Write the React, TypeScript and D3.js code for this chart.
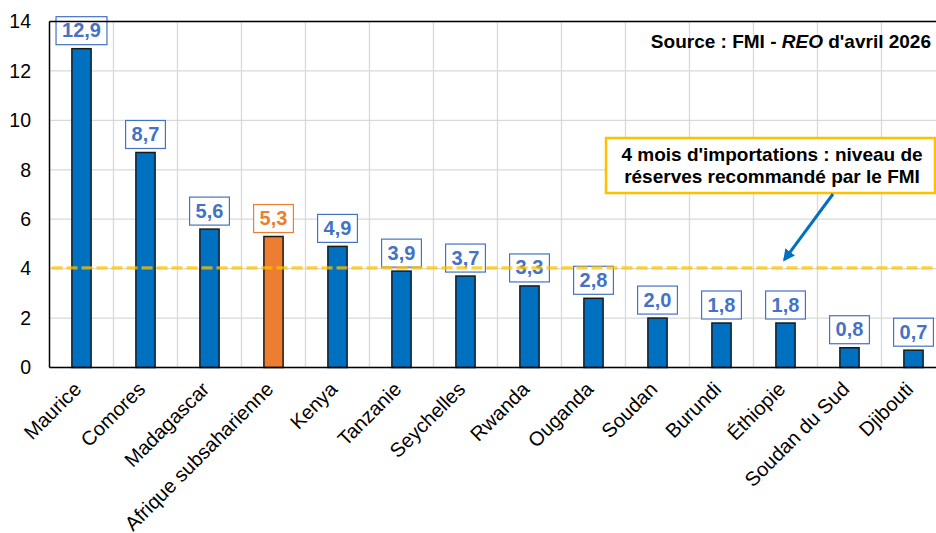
import React, { useEffect, useRef } from "react";
import * as d3 from "d3";

const categories = [
  "Maurice",
  "Comores",
  "Madagascar",
  "Afrique subsaharienne",
  "Kenya",
  "Tanzanie",
  "Seychelles",
  "Rwanda",
  "Ouganda",
  "Soudan",
  "Burundi",
  "Éthiopie",
  "Soudan du Sud",
  "Djibouti",
];
const values = [12.9, 8.7, 5.6, 5.3, 4.9, 3.9, 3.7, 3.3, 2.8, 2.0, 1.8, 1.8, 0.8, 0.7];
const highlighted = ["Afrique subsaharienne"];
const yTicks = [0, 2, 4, 6, 8, 10, 12, 14];
const thresholdValue = [4];
const arrowTarget = ["Éthiopie"];
const sourceParts = [
  { text: "Source : FMI - ", italic: false },
  { text: "REO", italic: true },
  { text: " d'avril 2026", italic: false },
];
const annotationLines = ["4 mois d'importations : niveau de", "réserves recommandé par le FMI"];

const W = 936;
const H = 533;
const FONT = "'Liberation Sans', Arial, sans-serif";
const BLUE = "#0070C0";
const ORANGE = "#ED7D31";
const LABEL_BLUE = "#4472C4";

export default function App() {
  const ref = useRef<SVGSVGElement>(null);

  useEffect(() => {
    const svg = d3.select(ref.current);
    svg.selectAll("*").remove();

    const left = 49.5;
    const band = 64;
    const x = d3
      .scaleBand<string>()
      .domain(categories)
      .range([left, left + band * categories.length])
      .paddingInner(0)
      .paddingOuter(0);
    const y = d3.scaleLinear().domain([0, 14]).range([367.5, 21.5]);
    const rightEdge = W;

    const defs = svg.append("defs");
    defs
      .append("marker")
      .attr("id", "arrowhead")
      .attr("viewBox", "0 0 10 10")
      .attr("refX", 8)
      .attr("refY", 5)
      .attr("markerWidth", 4)
      .attr("markerHeight", 4)
      .attr("orient", "auto")
      .append("path")
      .attr("d", "M0,0 L10,5 L0,10 z")
      .attr("fill", BLUE);

    // gridlines
    const grid = svg.append("g");
    grid
      .selectAll("line.h")
      .data(yTicks)
      .join("line")
      .attr("x1", left)
      .attr("x2", rightEdge)
      .attr("y1", (d) => y(d))
      .attr("y2", (d) => y(d))
      .attr("stroke", "#D9D9D9")
      .attr("stroke-width", 1.3);
    grid
      .selectAll("line.v")
      .data(categories.slice(1))
      .join("line")
      .attr("x1", (d) => x(d)!)
      .attr("x2", (d) => x(d)!)
      .attr("y1", y(14))
      .attr("y2", y(0))
      .attr("stroke", "#D9D9D9")
      .attr("stroke-width", 1.3);

    // bars
    const bw = x.bandwidth() * 0.3;
    svg
      .append("g")
      .selectAll("rect")
      .data(categories)
      .join("rect")
      .attr("x", (d) => x(d)! + x.bandwidth() / 2 - bw / 2)
      .attr("y", (d, i) => y(values[i]))
      .attr("width", bw)
      .attr("height", (d, i) => y(0) - y(values[i]))
      .attr("fill", (d) => (highlighted.includes(d) ? ORANGE : BLUE))
      .attr("stroke", "#1a1a1a")
      .attr("stroke-width", 1.5);

    // data labels
    const lg = svg.append("g");
    categories.forEach((c, i) => {
      const col = highlighted.includes(c) ? ORANGE : LABEL_BLUE;
      const cx = x(c)! + x.bandwidth() / 2;
      const g = lg.append("g");
      const boxBottom = y(values[i]) - 4;
      const rect = g.append("rect");
      const t = g
        .append("text")
        .attr("x", cx)
        .attr("y", boxBottom - 7.5)
        .attr("text-anchor", "middle")
        .attr("font-family", FONT)
        .attr("font-weight", "bold")
        .attr("font-size", 20)
        .attr("fill", col)
        .text(String(values[i].toFixed(1)).replace(".", ","));
      const tw = (t.node() as SVGTextElement).getComputedTextLength();
      const bwid = tw + 12;
      rect
        .attr("x", cx - bwid / 2)
        .attr("y", boxBottom - 28)
        .attr("width", bwid)
        .attr("height", 28)
        .attr("fill", "white")
        .attr("stroke", col)
        .attr("stroke-width", 1.2);
    });

    // threshold dashed line
    svg
      .append("g")
      .selectAll("line")
      .data(thresholdValue)
      .join("line")
      .attr("x1", left + 2)
      .attr("x2", rightEdge)
      .attr("y1", (d) => y(d) - 0.8)
      .attr("y2", (d) => y(d) - 0.8)
      .attr("stroke", "#FFC000")
      .attr("stroke-opacity", 0.75)
      .attr("stroke-width", 3.2)
      .attr("stroke-dasharray", "11,4");

    // axes
    svg
      .append("line")
      .attr("x1", left)
      .attr("x2", left)
      .attr("y1", y(14))
      .attr("y2", y(0))
      .attr("stroke", "#000")
      .attr("stroke-width", 1.5);
    svg
      .append("line")
      .attr("x1", left)
      .attr("x2", rightEdge)
      .attr("y1", y(0))
      .attr("y2", y(0))
      .attr("stroke", "#000")
      .attr("stroke-width", 1.5);
    svg
      .append("line")
      .attr("x1", left)
      .attr("x2", rightEdge)
      .attr("y1", y(14))
      .attr("y2", y(14))
      .attr("stroke", "#000")
      .attr("stroke-width", 1.5);

    // y tick labels
    svg
      .append("g")
      .selectAll("text")
      .data(yTicks)
      .join("text")
      .attr("x", 31)
      .attr("y", (d) => y(d))
      .attr("dy", "0.35em")
      .attr("text-anchor", "end")
      .attr("font-family", FONT)
      .attr("font-size", 19.5)
      .attr("fill", "#000")
      .text((d) => String(d));

    // x labels
    svg
      .append("g")
      .selectAll("text")
      .data(categories)
      .join("text")
      .attr(
        "transform",
        (d) => `translate(${x(d)! + x.bandwidth() / 2 + 1},${y(0) + 23}) rotate(-45)`
      )
      .attr("text-anchor", "end")
      .attr("font-family", FONT)
      .attr("font-size", 20)
      .attr("fill", "#000")
      .text((d) => d);

    // annotation box
    const ann = svg.append("g");
    ann
      .append("rect")
      .attr("x", 606)
      .attr("y", 138)
      .attr("width", 329)
      .attr("height", 55)
      .attr("fill", "white")
      .attr("stroke", "#FFC000")
      .attr("stroke-width", 2.5);
    ann
      .selectAll("text")
      .data(annotationLines)
      .join("text")
      .attr("x", 772)
      .attr("y", (d, i) => 161 + i * 22)
      .attr("text-anchor", "middle")
      .attr("font-family", FONT)
      .attr("font-weight", "bold")
      .attr("font-size", 19)
      .attr("fill", "#000")
      .text((d) => d);

    // arrow
    svg
      .append("line")
      .attr("x1", 833)
      .attr("y1", 194)
      .attr("x2", x(arrowTarget[0])! + x.bandwidth() / 2 - 1)
      .attr("y2", y(thresholdValue[0]) - 9)
      .attr("stroke", BLUE)
      .attr("stroke-width", 3)
      .attr("marker-end", "url(#arrowhead)");

    // source
    const src = svg
      .append("text")
      .attr("x", 931)
      .attr("y", 48)
      .attr("text-anchor", "end")
      .attr("font-family", FONT)
      .attr("font-weight", "bold")
      .attr("font-size", 19)
      .attr("fill", "#000");
    sourceParts.forEach((p) => {
      src
        .append("tspan")
        .attr("font-style", p.italic ? "italic" : "normal")
        .text(p.text);
    });
  }, []);

  return (
    <svg
      ref={ref}
      width={W}
      height={H}
      style={{ position: "absolute", left: 0, top: 0, background: "white" }}
    />
  );
}
